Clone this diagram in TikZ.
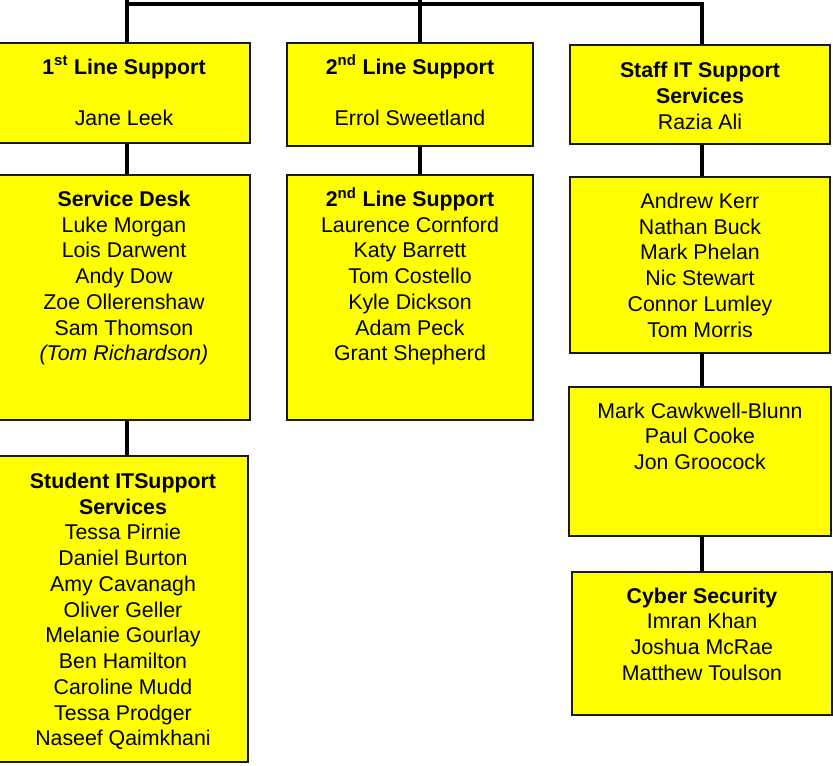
\documentclass[tikz,border=0pt]{standalone}
\usepackage{fontspec}
\setmainfont{Liberation Sans}
\usetikzlibrary{positioning}
\usetikzlibrary{fit}

\definecolor{boxyellow}{RGB}{255,255,0}

\begin{document}
\begin{tikzpicture}[x=0.75pt, y=-0.75pt]

\tikzstyle{teambox}=[rectangle, draw=black!90, line width=1.5pt, fill=boxyellow, inner sep=0pt]
\tikzstyle{teamtxt}=[align=center, inner sep=0pt, font=\fontsize{16}{19.3}\selectfont]
\tikzstyle{connect}=[line width=3pt, black]

\useasboundingbox (0,0) rectangle (833,766);

% top row
\node[teambox, fit={(-2,43) (250,143)}] (first) {};
\node[teambox, fit={(287,43) (533,146)}] (second) {};
\node[teambox, fit={(570,45) (830,144)}] (itstaff) {};

% second row
\node[teambox, fit={(-2,175) (250,420)}] (desk) {};
\node[teambox, fit={(287,175) (533,420)}] (secline) {};
\node[teambox, fit={(570,177) (830,353)}] (techs) {};

% lower boxes
\node[teambox, fit={(-2,456) (248,762)}] (student) {};
\node[teambox, fit={(569,387) (831,536)}] (infra) {};
\node[teambox, fit={(572,572) (832,715)}] (cyber) {};

\node[teamtxt, below=12.3pt of first.north] (firstTxt)
  {\textbf{1\smash{\textsuperscript{st}} Line Support}\\[19.3pt] Jane Leek};
\node[teamtxt, below=12.3pt of second.north] (secondTxt)
  {\textbf{2\smash{\textsuperscript{nd}} Line Support}\\[19.3pt] Errol Sweetland};
\node[teamtxt, below=13.5pt of itstaff.north] (itstaffTxt)
  {\textbf{Staff IT Support}\\ \textbf{Services}\\ Razia Ali};

\node[teamtxt, below=12.6pt of desk.north] (deskTxt)
  {\textbf{Service Desk}\\ Luke Morgan\\ Lois Darwent\\ Andy Dow\\
   Zoe Ollerenshaw\\ Sam Thomson\\ \textit{(Tom Richardson)}};
\node[teamtxt, below=12.6pt of secline.north] (seclineTxt)
  {\textbf{2\smash{\textsuperscript{nd}} Line Support}\\ Laurence Cornford\\ Katy Barrett\\
   Tom Costello\\ Kyle Dickson\\ Adam Peck\\ Grant Shepherd};
\node[teamtxt, below=12.6pt of techs.north] (techsTxt)
  {Andrew Kerr\\ Nathan Buck\\ Mark Phelan\\ Nic Stewart\\ Connor Lumley\\ Tom Morris};

\node[teamtxt, below=13.3pt of student.north] (studentTxt)
  {\textbf{Student ITSupport}\\ \textbf{Services}\\ Tessa Pirnie\\ Daniel Burton\\
   Amy Cavanagh\\ Oliver Geller\\ Melanie Gourlay\\ Ben Hamilton\\
   Caroline Mudd\\ Tessa Prodger\\ Naseef Qaimkhani};
\node[teamtxt, below=12.3pt of infra.north] (infraTxt)
  {Mark Cawkwell-Blunn\\ Paul Cooke\\ Jon Groocock};
\node[teamtxt, below=12.3pt of cyber.north] (cyberTxt)
  {\textbf{Cyber Security}\\ Imran Khan\\ Joshua McRae\\ Matthew Toulson};

\coordinate (topL) at (127,0);
\coordinate (topM) at (420,0);
\coordinate (busR) at (702,4);

\draw[connect] (topL |- first.north) -- (topL);
\draw[connect] (topM |- second.north) -- (topM);
\draw[connect] (topL |- busR) -- (busR) -- (busR |- itstaff.north);

\path (first.south -| topL) [connect] edge (topL |- desk.north);
\path (desk.south -| topL) [connect] edge (topL |- student.north);
\path (second.south -| topM) [connect] edge (topM |- secline.north);
\path (itstaff.south -| busR) [connect] edge (busR |- techs.north);
\path (techs.south -| busR) [connect] edge (busR |- infra.north);
\path (infra.south -| busR) [connect] edge (busR |- cyber.north);

\end{tikzpicture}
\end{document}
